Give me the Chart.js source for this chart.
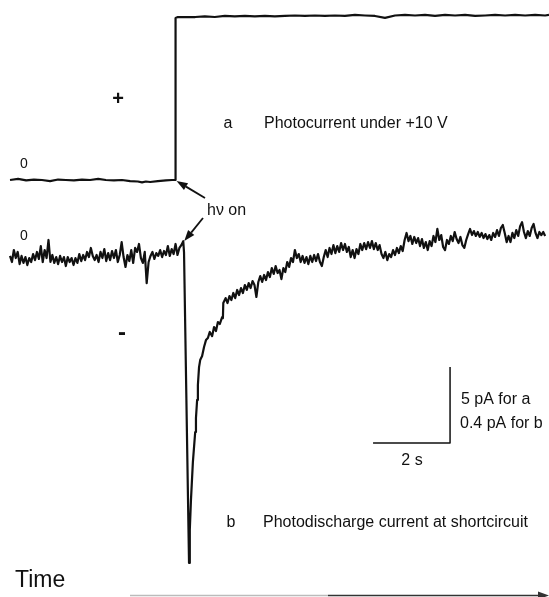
<!DOCTYPE html>
<html>
<head>
<meta charset="utf-8">
<script src="https://cdn.jsdelivr.net/npm/chart.js@4.4.1/dist/chart.umd.min.js"></script>
<style>
 html, body { margin: 0; padding: 0; background: #fff; }
 #wrap { position: relative; width: 549px; height: 597px; }
</style>
</head>
<body>
<div id="wrap"><canvas id="traces"></canvas></div>
<script>
// trace a: photocurrent under +10 V, time in s, current in pA
const aTime = [0, 0.21, 0.42, 0.62, 0.83, 1.04, 1.25, 1.45, 1.66, 1.87,
 2.08, 2.29, 2.49, 2.70, 2.91, 3.12, 3.32, 3.43, 3.53, 3.64,
 3.84, 4.05, 4.21, 4.29, 4.30, 4.36, 4.55, 4.81, 5.06, 5.32,
 5.58, 5.84, 6.10, 6.36, 6.62, 6.88, 7.14, 7.40, 7.66, 7.92,
 8.18, 8.44, 8.70, 8.96, 9.22, 9.48, 9.74, 10.00, 10.26, 10.52,
 10.78, 11.04, 11.30, 11.56, 11.82, 12.08, 12.34, 12.60, 12.86, 13.12,
 13.38, 13.64, 13.90, 14.00]
const aCurrent = [0, 0.07, -0.03, 0.03, 0, -0.07, 0.03, 0, -0.03, 0.03,
 0, 0.07, 0, -0.03, 0, -0.07, -0.10, -0.16, -0.10, -0.13,
 -0.07, -0.03, 0, 0, 10.66, 10.72, 10.72, 10.72, 10.76, 10.72,
 10.79, 10.76, 10.79, 10.76, 10.79, 10.76, 10.79, 10.82, 10.79, 10.82,
 10.79, 10.82, 10.79, 10.86, 10.82, 10.79, 10.66, 10.82, 10.86, 10.82,
 10.86, 10.79, 10.86, 10.82, 10.86, 10.79, 10.82, 10.86, 10.82, 10.86,
 10.82, 10.86, 10.82, 10.86]

// trace b: photodischarge current at short circuit, time in s, current in pA
const bTime = [0, 0.05, 0.1, 0.15, 0.2, 0.25, 0.3, 0.35, 0.4, 0.45,
 0.5, 0.55, 0.6, 0.65, 0.7, 0.75, 0.8, 0.85, 0.9, 0.95,
 1, 1.05, 1.1, 1.15, 1.2, 1.25, 1.3, 1.35, 1.4, 1.45,
 1.5, 1.55, 1.6, 1.65, 1.7, 1.75, 1.8, 1.85, 1.9, 1.95,
 2, 2.05, 2.1, 2.15, 2.2, 2.25, 2.3, 2.35, 2.4, 2.45,
 2.5, 2.55, 2.6, 2.65, 2.7, 2.75, 2.8, 2.85, 2.9, 2.95,
 3, 3.05, 3.1, 3.15, 3.2, 3.25, 3.3, 3.35, 3.4, 3.45,
 3.5, 3.55, 3.6, 3.65, 3.7, 3.75, 3.8, 3.85, 3.9, 3.95,
 4, 4.05, 4.1, 4.15, 4.2, 4.25, 4.3, 4.35, 4.4, 4.45,
 4.5,
 4.52, 4.65, 4.67, 4.70, 4.75, 4.81, 4.83, 4.86, 4.88, 4.91,
 4.94, 4.99, 5.04, 5.09, 5.14, 5.19, 5.25, 5.30, 5.35, 5.40,
 5.45, 5.51, 5.53, 5.54,
 5.6, 5.65, 5.7, 5.75, 5.8, 5.85, 5.9, 5.95, 6, 6.05,
 6.1, 6.15, 6.2, 6.25, 6.3, 6.35, 6.4, 6.45, 6.5, 6.55,
 6.6, 6.65, 6.7, 6.75, 6.8, 6.85, 6.9, 6.95, 7, 7.05,
 7.1, 7.15, 7.2, 7.25, 7.3, 7.35, 7.4, 7.45, 7.5, 7.55,
 7.6, 7.65, 7.7, 7.75, 7.8, 7.85, 7.9, 7.95, 8, 8.05,
 8.1, 8.15, 8.2, 8.25, 8.3, 8.35, 8.4, 8.45, 8.5, 8.55,
 8.6, 8.65, 8.7, 8.75, 8.8, 8.85, 8.9, 8.95, 9, 9.05,
 9.1, 9.15, 9.2, 9.25, 9.3, 9.35, 9.4, 9.45, 9.5, 9.55,
 9.6, 9.65, 9.7, 9.75, 9.8, 9.85, 9.9, 9.95, 10, 10.05,
 10.1, 10.15, 10.2, 10.25, 10.3, 10.35, 10.4, 10.45, 10.5, 10.55,
 10.6, 10.65, 10.7, 10.75, 10.8, 10.85, 10.9, 10.95, 11, 11.05,
 11.1, 11.15, 11.2, 11.25, 11.3, 11.35, 11.4, 11.45, 11.5, 11.55,
 11.6, 11.65, 11.7, 11.75, 11.8, 11.85, 11.9, 11.95, 12, 12.05,
 12.1, 12.15, 12.2, 12.25, 12.3, 12.35, 12.4, 12.45, 12.5, 12.55,
 12.6, 12.65, 12.7, 12.75, 12.8, 12.85, 12.9, 12.95, 13, 13.05,
 13.1, 13.15, 13.2, 13.25, 13.3, 13.35, 13.4, 13.45, 13.5, 13.55,
 13.6, 13.65, 13.7, 13.75, 13.8, 13.85, 13.9]
const bCurrent = [0.011, -0.021, 0.042, 0, 0.032, -0.032, 0.011, -0.026, 0.005, -0.037,
 0, -0.021, 0.021, -0.011, 0.032, -0.005, 0.063, -0.021, 0.042, 0,
 0.095, -0.021, 0.016, -0.026, 0.005, -0.032, 0.011, -0.021, 0.005, -0.042,
 0.005, -0.021, 0, -0.037, 0, -0.026, 0.021, -0.016, 0.016, -0.011,
 0.032, 0.005, 0.053, 0.011, -0.011, 0.016, -0.021, 0.032, 0, 0.047,
 -0.016, 0.026, -0.011, 0.037, 0, 0.042, -0.021, 0.016, 0.084, 0.005,
 -0.047, 0.016, -0.016, 0.042, -0.026, 0.053, 0.032, 0.074, 0, -0.026,
 0.032, -0.132, -0.021, 0.011, 0.032, -0.005, 0.026, 0.011, 0.042, 0.005,
 0.037, 0.016, 0.063, 0.011, 0.047, 0.021, 0.074, 0.016, 0.053, 0.068,
 0.089,
 0.03, -1.605, -1.43, -1.274, -1.074, -0.916, -0.842, -0.747, -0.668, -0.574,
 -0.537, -0.516, -0.468, -0.432, -0.421, -0.389, -0.411, -0.363, -0.384, -0.337,
 -0.347, -0.311, -0.316, -0.237,
 -0.211, -0.237, -0.200, -0.221, -0.184, -0.211, -0.168, -0.195, -0.158, -0.184,
 -0.142, -0.168, -0.132, -0.158, -0.121, -0.142, -0.205, -0.126, -0.095, -0.126,
 -0.089, -0.116, -0.074, -0.100, -0.053, -0.084, -0.042, -0.079, -0.063, -0.111,
 -0.053, -0.074, -0.021, -0.047, 0, -0.021, 0.042, 0, 0.021, -0.021,
 0.011, -0.026, 0.005, -0.032, 0.011, -0.021, 0.016, -0.016, 0.021, -0.021,
 -0.042, 0.005, 0.042, 0.005, 0.053, 0.021, 0.068, 0.026, 0.063, 0.032,
 0.079, 0.042, 0.074, 0.032, 0.058, 0.005, 0.042, 0, 0.047, 0.021,
 0.074, 0.042, 0.079, 0.047, 0.084, 0.053, 0.089, 0.047, 0.079, 0.042,
 0.068, 0.021, 0, 0.032, -0.011, 0.021, 0.005, 0.042, 0.016, 0.053,
 0.026, 0.063, 0.037, 0.095, 0.132, 0.089, 0.116, 0.074, 0.111, 0.079,
 0.105, 0.063, 0.100, 0.053, 0.084, 0.042, 0.089, 0.063, 0.116, 0.084,
 0.153, 0.095, 0.121, 0.058, 0.042, 0.095, 0.074, 0.116, 0.089, 0.137,
 0.100, 0.079, 0.111, 0.068, 0.053, 0.095, 0.126, 0.153, 0.121, 0.142,
 0.116, 0.137, 0.111, 0.132, 0.105, 0.126, 0.100, 0.121, 0.095, 0.132,
 0.111, 0.147, 0.116, 0.158, 0.174, 0.132, 0.084, 0.116, 0.084, 0.132,
 0.105, 0.147, 0.116, 0.168, 0.189, 0.137, 0.105, 0.142, 0.116, 0.158,
 0.179, 0.132, 0.105, 0.137, 0.121, 0.137, 0.116]

// light switched on (s) and peak of b just before the discharge
const lightOnA = 4.30
const lightOnB = 4.50
const peakB = 0.089

// scale bar: 2 s horizontally, 5 pA (a) / 0.4 pA (b) vertically
const scaleBarTime = 2
const scaleBarA = 5
const scaleBarB = 0.4
const scaleBarStart = 9.43
const scaleBarBase = -17.3

const toPoints = (ts, vs) => ts.map((t, i) => ({ x: t, y: vs[i] }))

const FONT = '"Liberation Sans", Arial, Helvetica, sans-serif'
const INK = '#111'

const labels = [
 ['0', 24, 168, '14px', 'center'],
 ['+', 118, 105, 'bold 20px', 'center'],
 ['a', 228, 128, '16px', 'center'],
 ['Photocurrent under +10 V', 264, 128, '16px', 'left'],
 ['0', 24, 240, '14px', 'center'],
 ['-', 122, 340, 'bold 24px', 'center'],
 ['h\u03bd on', 207, 215, '16px', 'left'],
 [scaleBarA + ' pA for a', 461, 404, '16px', 'left'],
 [scaleBarB + ' pA for b', 460, 428, '16px', 'left'],
 [scaleBarTime + ' s', 412, 465, '16px', 'center'],
 ['b', 231, 527, '16px', 'center'],
 ['Photodischarge current at shortcircuit', 263, 527, '16px', 'left'],
 ['Time', 15, 587, '23px', 'left']
]

function arrow(ctx, x0, y0, x1, y1) {
 const ang = Math.atan2(y1 - y0, x1 - x0)
 const len = 11, half = 4
 const bx = x1 - len * Math.cos(ang), by = y1 - len * Math.sin(ang)
 ctx.beginPath()
 ctx.moveTo(x0, y0)
 ctx.lineTo(bx, by)
 ctx.stroke()
 ctx.beginPath()
 ctx.moveTo(x1, y1)
 ctx.lineTo(bx + half * Math.sin(ang), by - half * Math.cos(ang))
 ctx.lineTo(bx - half * Math.sin(ang), by + half * Math.cos(ang))
 ctx.closePath()
 ctx.fill()
}

const notes = {
 id: 'notes',
 afterDraw(chart) {
  const { ctx, scales } = chart
  ctx.save()
  ctx.fillStyle = INK
  ctx.strokeStyle = INK
  ctx.textBaseline = 'alphabetic'
  for (const [text, x, y, size, align] of labels) {
   ctx.font = size + ' ' + FONT
   ctx.textAlign = align
   ctx.fillText(text, x, y)
  }

  // "hν on" arrows to the light onset on both traces
  ctx.lineWidth = 1.8
  const xa = scales.x.getPixelForValue(lightOnA)
  const ya = scales.yA.getPixelForValue(0)
  arrow(ctx, 205, 198, xa + 1, ya + 1)
  const xb = scales.x.getPixelForValue(lightOnB)
  const yb = scales.yB.getPixelForValue(peakB)
  arrow(ctx, 203, 218, xb + 1, yb)

  // time direction arrow along the bottom
  const yT = 595.5
  ctx.lineWidth = 1.5
  ctx.strokeStyle = '#bbb'
  ctx.beginPath(); ctx.moveTo(130, yT); ctx.lineTo(328, yT); ctx.stroke()
  ctx.strokeStyle = '#333'
  ctx.fillStyle = '#333'
  arrow(ctx, 328, yT, 549, yT)
  ctx.restore()
 }
}

new Chart(document.getElementById('traces'), {
 type: 'line',
 data: {
  datasets: [{
   label: 'a',
   data: toPoints(aTime, aCurrent),
   yAxisID: 'yA',
   borderColor: INK,
   borderWidth: 2.2
  }, {
   label: 'b',
   data: toPoints(bTime, bCurrent),
   yAxisID: 'yB',
   borderColor: INK,
   borderWidth: 2.2
  }, {
   label: 'scale',
   data: [
    { x: scaleBarStart, y: scaleBarBase },
    { x: scaleBarStart + scaleBarTime, y: scaleBarBase },
    { x: scaleBarStart + scaleBarTime, y: scaleBarBase + scaleBarA }
   ],
   yAxisID: 'yA',
   borderColor: INK,
   borderWidth: 1.5
  }]
 },
 options: {
  animation: false,
  responsive: true,
  maintainAspectRatio: false,
  layout: { padding: 0 },
  elements: {
   point: { radius: 0 },
   line: { tension: 0, borderJoinStyle: 'round', capBezierPoints: false }
  },
  plugins: { legend: { display: false }, tooltip: { enabled: false } },
  scales: {
   x: { type: 'linear', display: false, min: -0.26, max: 14.0 },
   yA: { type: 'linear', display: false, min: -27.43, max: 11.84 },
   yB: { type: 'linear', display: false, min: -1.784, max: 1.358 }
  }
 },
 plugins: [notes]
})
</script>
</body>
</html>
